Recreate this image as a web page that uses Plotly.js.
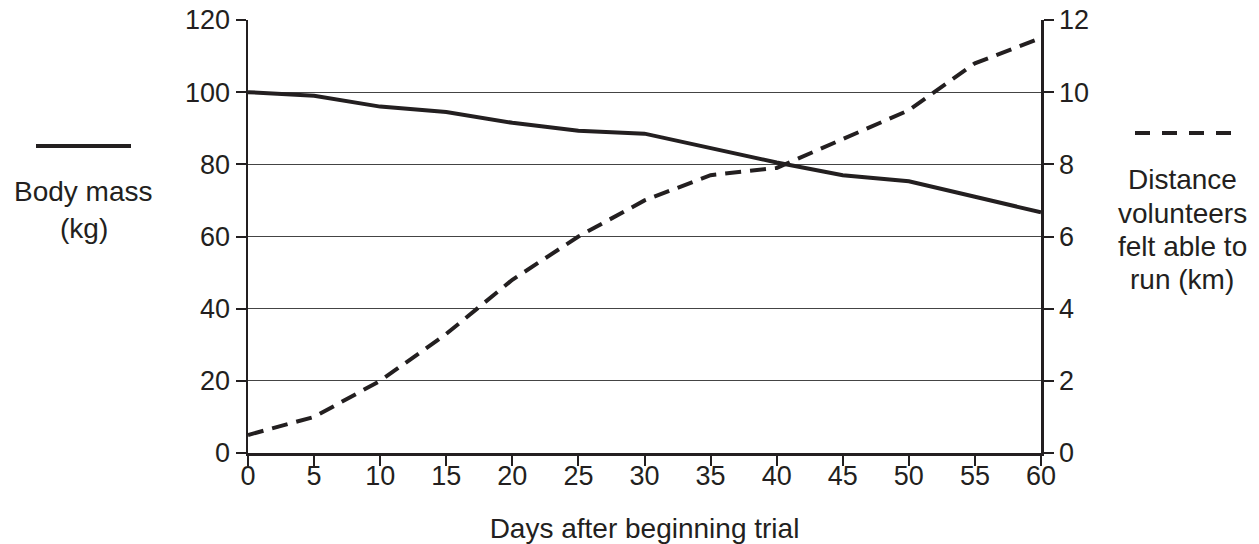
<!DOCTYPE html>
<html>
<head>
<meta charset="utf-8">
<script src="https://cdn.plot.ly/plotly-3.0.1.min.js"></script>
<style>
html,body{margin:0;padding:0;background:#fff;}
#chart{width:1259px;height:544px;}
</style>
</head>
<body>
<div id="chart"></div>
<script>
// Data
const days = [0, 5, 10, 15, 20, 25, 30, 35, 40, 45, 50, 55, 60];
const bodyMass = [100, 99, 96, 94.5, 91.5, 89.3, 88.5, 84.5, 80.5, 77, 75.3, 71, 66.7];
const distance = [0.5, 1.0, 2.0, 3.3, 4.8, 6.0, 7.0, 7.7, 7.9, 8.7, 9.5, 10.8, 11.5];
const xTicks = [0, 5, 10, 15, 20, 25, 30, 35, 40, 45, 50, 55, 60];
const massTicks = [0, 20, 40, 60, 80, 100, 120];
const distTicks = [0, 2, 4, 6, 8, 10, 12];
const xTitle = "Days after beginning trial";
const massLabel = ["Body mass", "(kg)"];
const distLabel = ["Distance", "volunteers", "felt able to", "run (km)"];

const ink = "#231f20";
const font = {family: "Liberation Sans, Arial, sans-serif", color: ink};

const traces = [
  {x: days, y: bodyMass, type: "scatter", mode: "lines", yaxis: "y",
   line: {color: ink, width: 4}, showlegend: false, hoverinfo: "skip"},
  {x: days, y: distance, type: "scatter", mode: "lines", yaxis: "y2",
   line: {color: ink, width: 4, dash: "16px,9px"}, showlegend: false, hoverinfo: "skip"}
];

// plot area in px: left 248, right 1041, top 20, bottom 453
const L = 248, R = 1041, T = 20, B = 453;
const px = v => (v - L) / (R - L);
const py = v => (B - v) / (B - T);

const annotations = [];
const massY = [191, 229];
massLabel.forEach((t, i) => annotations.push({
  text: t, xref: "paper", yref: "paper", x: px(83.5), y: py(massY[i]),
  xanchor: "center", yanchor: "middle", showarrow: false,
  font: Object.assign({size: 28}, font)
}));
const distY = [179, 213, 246, 279];
distLabel.forEach((t, i) => annotations.push({
  text: t, xref: "paper", yref: "paper", x: px(1182), y: py(distY[i]),
  xanchor: "center", yanchor: "middle", showarrow: false,
  font: Object.assign({size: 28}, font)
}));

const shapes = [
  {type: "line", xref: "paper", yref: "paper", x0: px(36), x1: px(131), y0: py(146), y1: py(146),
   line: {color: ink, width: 4}},
  {type: "line", xref: "paper", yref: "paper", x0: px(1135), x1: px(1232), y0: py(133), y1: py(133),
   line: {color: ink, width: 4, dash: "15px,12px"}}
];

const layout = {
  width: 1259, height: 544,
  margin: {l: L, r: 1259 - R, t: T, b: 544 - B},
  paper_bgcolor: "#fff", plot_bgcolor: "#fff",
  font: Object.assign({size: 27}, font),
  showlegend: false,
  xaxis: {
    range: [0, 60], tickvals: xTicks, ticktext: xTicks.map(String),
    showline: true, linecolor: ink, linewidth: 2.5,
    ticks: "outside", ticklen: 10, tickwidth: 2, tickcolor: ink,
    ticklabelstandoff: -13,
    showgrid: false, zeroline: false,
    tickfont: Object.assign({size: 27}, font),
    title: {text: xTitle, font: Object.assign({size: 28}, font), standoff: 34}
  },
  yaxis: {
    range: [0, 120], tickvals: massTicks, ticktext: massTicks.map(String),
    showline: true, linecolor: ink, linewidth: 2.5,
    ticks: "outside", ticklen: 10, tickwidth: 2, tickcolor: ink,
    showgrid: true, gridcolor: "#444", gridwidth: 1.2, zeroline: false,
    tickfont: Object.assign({size: 27}, font)
  },
  yaxis2: {
    range: [0, 12], tickvals: distTicks, ticktext: distTicks.map(String),
    overlaying: "y", side: "right",
    showline: true, linecolor: ink, linewidth: 2.5,
    ticks: "outside", ticklen: 10, tickwidth: 2, tickcolor: ink,
    showgrid: false, zeroline: false,
    tickfont: Object.assign({size: 27}, font)
  },
  annotations: annotations,
  shapes: shapes
};

Plotly.newPlot("chart", traces, layout, {staticPlot: true, displayModeBar: false});
</script>
</body>
</html>
